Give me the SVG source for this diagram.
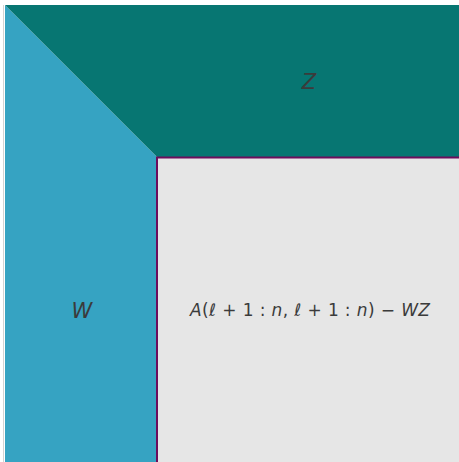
<svg xmlns="http://www.w3.org/2000/svg" width="459" height="462" viewBox="0 0 459 462">
<style>
text{font-family:"DejaVu Sans","Open Sans",sans-serif;fill:#3b3b3b}
.it{font-style:italic}
</style>
<rect width="459" height="462" fill="#ffffff"/>
<g id="edge"><line x1="3.5" y1="5" x2="3.5" y2="462" stroke="#d4d4d4" stroke-width="1"/></g>
<g id="W">
<polygon points="5,5 157,157 157,462 5,462" fill="#36a3c2"/>
<text class="it" x="82" y="318" font-size="21" text-anchor="middle">W</text>
</g>
<g id="Z">
<polygon points="5,5 459,5 459,157 157,157" fill="#077672"/>
<text class="it" x="309" y="89" font-size="21" text-anchor="middle">Z</text>
</g>
<g id="A">
<rect x="157" y="157.5" width="304" height="306" fill="#e6e6e6" stroke="#6d0d5c" stroke-width="2"/>
<text x="190" y="316" font-size="17" textLength="240" lengthAdjust="spacing"><tspan class="it">A</tspan>(<tspan class="it">ℓ</tspan> + 1 : <tspan class="it">n</tspan>, <tspan class="it">ℓ</tspan> + 1 : <tspan class="it">n</tspan>) − <tspan class="it">WZ</tspan></text>
</g>
</svg>
